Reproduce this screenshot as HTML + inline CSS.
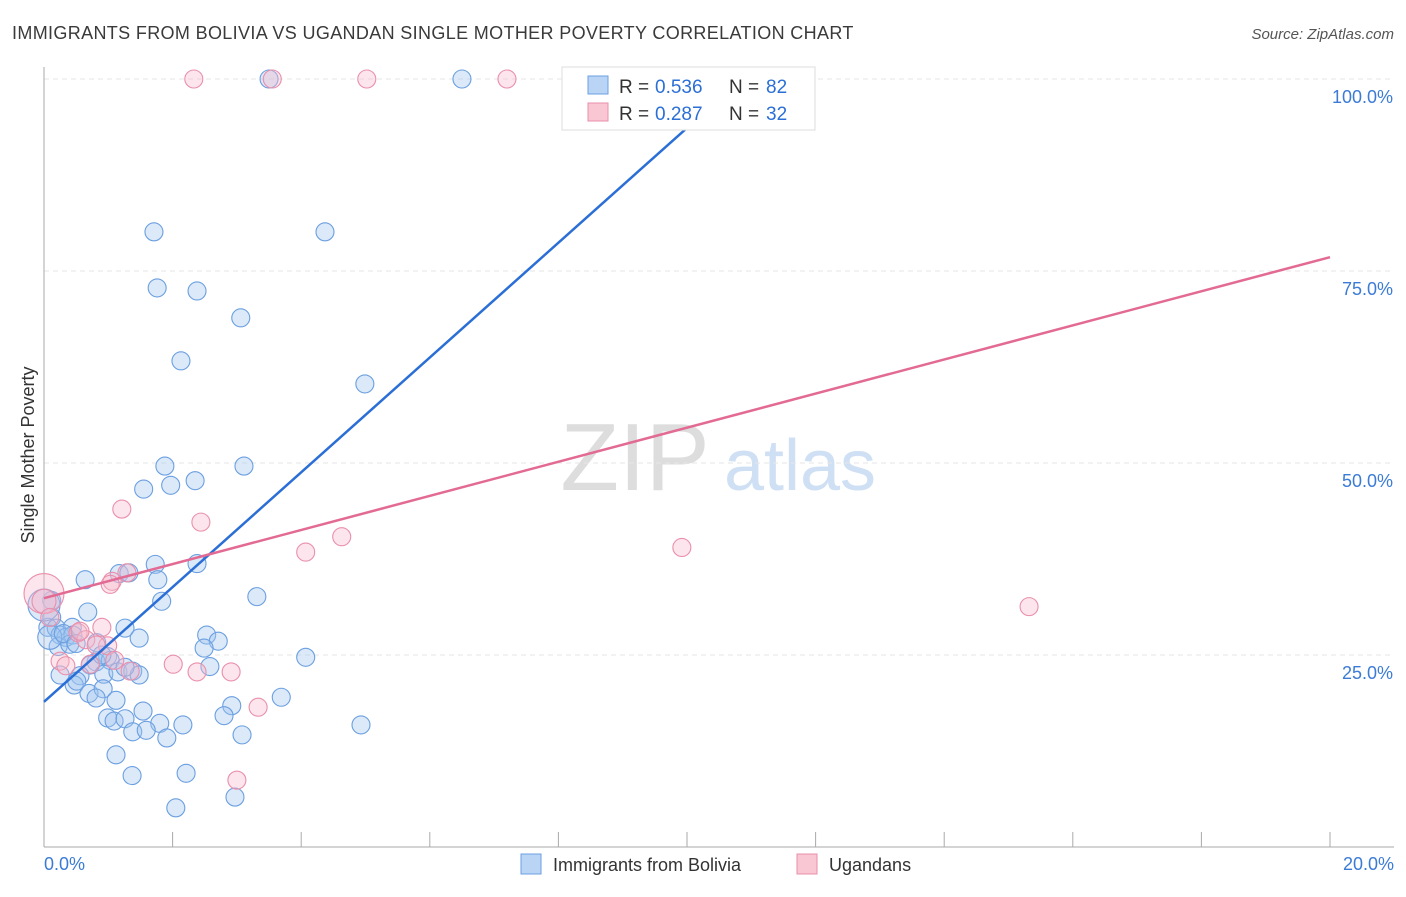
<!DOCTYPE html>
<html><head><meta charset="utf-8"><style>
body{margin:0;background:#fff;font-family:"Liberation Sans",sans-serif;}
svg text{font-family:"Liberation Sans",sans-serif;}
</style></head><body>
<svg id="chart" width="1406" height="892">
<text x="12" y="39" font-size="18" fill="#3a3a3a" letter-spacing="0.35">IMMIGRANTS FROM BOLIVIA VS UGANDAN SINGLE MOTHER POVERTY CORRELATION CHART</text>
<text x="1394" y="39" font-size="15" fill="#555" font-style="italic" text-anchor="end">Source: ZipAtlas.com</text>
<text x="34" y="455" font-size="18" fill="#333" transform="rotate(-90 34 455)" text-anchor="middle">Single Mother Poverty</text>
<text x="635" y="490" font-size="96" fill="#ddd" font-family="Liberation Serif" text-anchor="middle">ZIP</text>
<text x="800" y="490" font-size="72" fill="#cfe0f5" text-anchor="middle">atlas</text>
<g id="grid"></g><g id="pts"></g><g id="lines"></g>
<g>
<rect x="562" y="67" width="253" height="63" fill="#fff" stroke="#ddd"/>
<rect x="588" y="76" width="20" height="18" fill="#b9d4f4" stroke="#6b9fe0"/>
<rect x="588" y="103" width="20" height="18" fill="#f9c6d4" stroke="#ea8fab"/>
<text x="619" y="93" font-size="19" fill="#333">R =</text><text x="655" y="93" font-size="19" fill="#2b6fd6">0.536</text>
<text x="729" y="93" font-size="19" fill="#333">N =</text><text x="766" y="93" font-size="19" fill="#2b6fd6">82</text>
<text x="619" y="120" font-size="19" fill="#333">R =</text><text x="655" y="120" font-size="19" fill="#2b6fd6">0.287</text>
<text x="729" y="120" font-size="19" fill="#333">N =</text><text x="766" y="120" font-size="19" fill="#2b6fd6">32</text>
</g>
<g>
<rect x="521" y="854" width="20" height="20" fill="#b9d4f4" stroke="#6b9fe0"/>
<text x="553" y="871" font-size="18" fill="#333">Immigrants from Bolivia</text>
<rect x="797" y="854" width="20" height="20" fill="#f9c6d4" stroke="#ea8fab"/>
<text x="829" y="871" font-size="18" fill="#333">Ugandans</text>
</g>
</svg>
<script>
const NS="http://www.w3.org/2000/svg";
const yTicks=[25,50,75,100];
const xTickLabels=["0.0%","20.0%"];
const bolX=[3.5,6.5,1.71,4.37,1.76,2.38,3.06,2.13,4.99,1.88,3.11,1.55,1.97,2.35,1.73,2.38,1.77,0.64,1.17,1.32,1.83,3.31,0.68,0.12,0.06,0.19,0.44,0.25,0.34,0.45,0.82,1.26,1.48,2.53,2.71,2.49,0.22,0.40,0.99,0.81,0.72,1.03,0.25,0.56,0.93,1.15,1.38,1.48,1.26,2.58,4.07,0.47,0.51,0.70,0.92,0.81,1.12,3.69,2.92,1.54,1.80,2.16,2.80,0.99,1.09,1.26,1.38,1.59,1.91,4.93,3.08,1.12,1.37,2.21,2.05,2.97,0.12,0.0,0.09,0.3,0.5,0.9];
const bolY=[100,100,80.1,80.1,72.8,72.4,68.9,63.3,60.3,49.6,49.6,46.6,47.1,47.7,36.8,36.9,34.8,34.8,35.6,35.7,32.0,32.6,30.6,29.9,28.6,28.5,28.6,27.6,27.3,27.6,26.6,28.5,27.2,27.6,26.8,25.9,26.1,26.4,24.8,24.1,23.7,24.3,22.4,22.3,22.5,22.8,22.9,22.4,23.4,23.5,24.7,21.1,21.6,20.0,20.6,19.4,19.1,19.5,18.4,17.7,16.1,15.9,17.1,16.8,16.4,16.7,15.0,15.2,14.2,15.9,14.6,12.0,9.3,9.6,5.1,6.5,32.1,31.5,27.3,27.8,26.5,25.0];
const bolR=[9,9,9,9,9,9,9,9,9,9,9,9,9,9,9,9,9,9,9,9,9,9,9,9,9,9,9,9,9,9,9,9,9,9,9,9,9,9,9,9,9,9,9,9,9,9,9,9,9,9,9,9,9,9,9,9,9,9,9,9,9,9,9,9,9,9,9,9,9,9,9,9,9,9,9,9,9,16,12,9,9,9];
const ugX=[2.33,3.55,5.02,7.2,1.21,2.44,4.63,4.07,9.92,15.32,0.0,0.0,1.29,1.06,1.03,0.90,0.99,0.53,0.65,0.81,0.25,0.34,0.72,1.10,2.01,2.38,2.91,1.34,3.33,3.0,0.09,0.56];
const ugY=[100,100,100,100,44.0,42.3,40.4,38.4,39.0,31.3,33.0,32.0,35.7,34.6,34.2,28.6,26.2,27.9,27.0,26.3,24.2,23.6,23.8,24.3,23.8,22.8,22.8,22.9,18.2,8.7,29.9,28.1];
const ugR=[9,9,9,9,9,9,9,9,9,9,20,12,9,9,9,9,9,9,9,9,9,9,9,9,9,9,9,9,9,9,9,9];
const bolFit=[18.9,94.0,10.05];
const ugFit=[32.4,76.8,20];
const X=v=>44+v*64.3, Y=v=>847-v*7.68;
function el(t,a,p){const e=document.createElementNS(NS,t);for(const k in a)e.setAttribute(k,a[k]);p.appendChild(e);return e;}
const g=document.getElementById('grid');
yTicks.forEach(t=>{
 const l=el('line',{x1:44,x2:1394,y1:Y(t),y2:Y(t),stroke:'#e6e6e6','stroke-dasharray':'5,4'},g);
 
 
 const tx=el('text',{x:1393,y:Y(t)+24,'font-size':18,fill:'#3b7bd6','text-anchor':'end'},g);tx.textContent=t.toFixed(1)+'%';
 
 
});
el('line',{x1:44,x2:44,y1:67,y2:847,stroke:'#aaa'},g);
el('line',{x1:44,x2:1394,y1:847,y2:847,stroke:'#aaa'},g);
for(let i=0;i<=10;i++){el('line',{x1:X(i*2),x2:X(i*2),y1:832,y2:847,stroke:'#aaa'},g);}
const tx0=el('text',{x:44,y:870,'font-size':18,fill:'#3b7bd6'},g);tx0.textContent=xTickLabels[0];


const tx1=el('text',{x:1394,y:870,'font-size':18,fill:'#3b7bd6','text-anchor':'end'},g);tx1.textContent=xTickLabels[1];


const p=document.getElementById('pts');
bolX.forEach((x,i)=>{const c=el('circle',{cx:X(x),cy:Y(bolY[i]),r:bolR[i],fill:'rgba(160,196,240,0.38)',stroke:'#6b9fe0','stroke-width':1.1},p);
 
 });
ugX.forEach((x,i)=>{const c=el('circle',{cx:X(x),cy:Y(ugY[i]),r:ugR[i],fill:'rgba(248,186,204,0.38)',stroke:'#ea8fab','stroke-width':1.1},p);
 
 });
const L=document.getElementById('lines');
const b=el('line',{x1:X(0),y1:Y(bolFit[0]),x2:X(bolFit[2]),y2:Y(bolFit[1]),stroke:'#2b6fd6','stroke-width':2.5},L);


const u=el('line',{x1:X(0),y1:Y(ugFit[0]),x2:X(ugFit[2]),y2:Y(ugFit[1]),stroke:'#e26a93','stroke-width':2.5},L);


</script>
</body></html>
